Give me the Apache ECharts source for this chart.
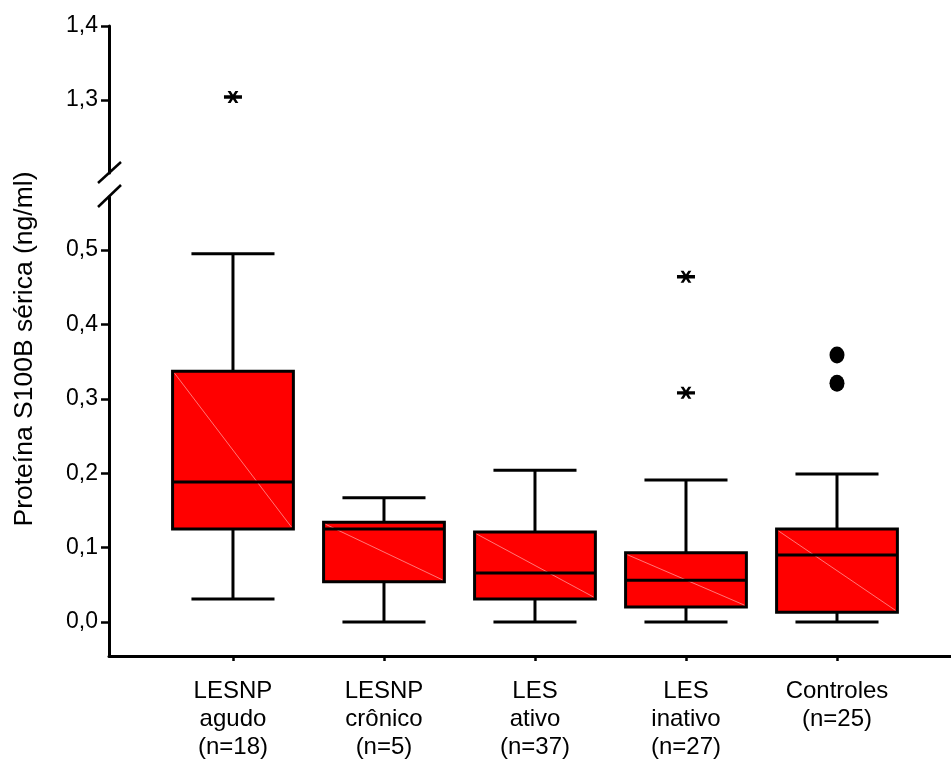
<!DOCTYPE html>
<html>
<head>
<meta charset="utf-8">
<script src="https://cdn.jsdelivr.net/npm/echarts@6/dist/echarts.min.js"></script>
<style>
  html, body { margin: 0; padding: 0; background: #fff; }
  #chart { width: 951px; height: 760px; }
</style>
</head>
<body>
<div id="chart"></div>
<script>
// Box plot with a broken y axis: lower panel 0.0-0.5, upper panel 1.3-1.4.

const groupNames = ['LESNP\nagudo', 'LESNP\ncrônico', 'LES\nativo', 'LES\ninativo', 'Controles']
const groupN = [18, 5, 37, 27, 25]
const groupPos = [1, 2, 3, 4, 5]

const whiskerLow = [0.031, 0.0, 0.0, 0.0, 0.0]
const q1 = [0.125, 0.054, 0.031, 0.020, 0.013]
const median = [0.188, 0.125, 0.066, 0.056, 0.090]
const q3 = [0.337, 0.134, 0.121, 0.093, 0.125]
const whiskerHigh = [0.495, 0.167, 0.204, 0.191, 0.199]

// outliers: [group position, value]
const starOutliersHigh = [[1, 1.304]]
const starOutliersLow = [[4, 0.464], [4, 0.308]]
const dotOutliers = [[5, 0.359], [5, 0.321]]

const lowTicks = [0, 0.1, 0.2, 0.3, 0.4, 0.5]
const highTicks = [1.3, 1.4]

const X_MIN = 0.179
const X_MAX = 5.755
const FONT = '"Liberation Sans", Arial, sans-serif'

const STAR = 'path://M0,4.3 L18,4.3 L18,7.7 L0,7.7 Z M3.6,0 L6.6,0 L14.4,12 L11.4,12 Z M11.4,0 L14.4,0 L6.6,12 L3.6,12 Z'
const DOT = 'path://M0,8.5 A7.5,8.5 0 1,1 15,8.5 A7.5,8.5 0 1,1 0,8.5 Z'

const boxData = groupPos.map((p, i) => [p, whiskerLow[i], q1[i], median[i], q3[i], whiskerHigh[i]])

const comma = (v) => v.toFixed(1).replace('.', ',')

function renderBox(params, api) {
  const x = api.value(0)
  const pMin = api.coord([x, api.value(1)])
  const pQ1 = api.coord([x, api.value(2)])
  const pMed = api.coord([x, api.value(3)])
  const pQ3 = api.coord([x, api.value(4)])
  const pMax = api.coord([x, api.value(5)])
  const unit = api.size([1, 0])[0]
  const half = unit * 0.4
  const cap = unit * 0.275
  const cx = pMin[0]
  const line = { stroke: '#000', lineWidth: 3 }
  return {
    type: 'group',
    children: [
      { type: 'line', shape: { x1: cx, y1: pMax[1], x2: cx, y2: pQ3[1] }, style: line },
      { type: 'line', shape: { x1: cx, y1: pQ1[1], x2: cx, y2: pMin[1] }, style: line },
      { type: 'line', shape: { x1: cx - cap, y1: pMax[1], x2: cx + cap, y2: pMax[1] }, style: line },
      { type: 'line', shape: { x1: cx - cap, y1: pMin[1], x2: cx + cap, y2: pMin[1] }, style: line },
      {
        type: 'rect',
        shape: { x: cx - half, y: pQ3[1], width: half * 2, height: pQ1[1] - pQ3[1] },
        style: { fill: '#ff0000', stroke: '#000', lineWidth: 3 }
      },
      {
        type: 'line',
        shape: { x1: cx - half + 2, y1: pQ3[1] + 2, x2: cx + half - 2, y2: pQ1[1] - 2 },
        style: { stroke: 'rgba(255,170,170,0.7)', lineWidth: 1 }
      },
      { type: 'line', shape: { x1: cx - half, y1: pMed[1], x2: cx + half, y2: pMed[1] }, style: line }
    ]
  }
}

const chart = echarts.init(document.getElementById('chart'))

const yLabel = { color: '#000', fontFamily: FONT, fontSize: 23, margin: 11, formatter: comma }
const yTick = { show: true, length: 8, lineStyle: { color: '#000', width: 2.5 } }
const axisLine = { show: true, onZero: false, lineStyle: { color: '#000', width: 3 } }

chart.setOption({
  animation: false,
  backgroundColor: '#fff',
  grid: [
    { left: 109, right: 0, top: 26, height: 147, outerBoundsMode: 'none' },
    { left: 109, right: 0, top: 197, bottom: 104, outerBoundsMode: 'none' }
  ],
  xAxis: [
    { gridIndex: 0, type: 'value', min: X_MIN, max: X_MAX, show: false },
    {
      gridIndex: 1,
      type: 'value',
      min: X_MIN,
      max: X_MAX,
      axisLine: axisLine,
      axisTick: { show: true, customValues: groupPos, length: 5, lineStyle: { color: '#000', width: 2.5 } },
      axisLabel: {
        customValues: groupPos,
        color: '#000',
        fontFamily: FONT,
        fontSize: 24,
        lineHeight: 28,
        margin: 21,
        formatter: (v) => {
          const i = groupPos.indexOf(Math.round(v))
          return i < 0 ? '' : groupNames[i] + '\n(n=' + groupN[i] + ')'
        }
      },
      splitLine: { show: false }
    }
  ],
  yAxis: [
    {
      gridIndex: 0,
      type: 'value',
      min: 1.2014,
      max: 1.4,
      axisLine: axisLine,
      axisTick: Object.assign({ customValues: highTicks }, yTick),
      axisLabel: Object.assign({ customValues: highTicks }, yLabel),
      splitLine: { show: false }
    },
    {
      gridIndex: 1,
      type: 'value',
      min: -0.0457,
      max: 0.5712,
      axisLine: axisLine,
      axisTick: Object.assign({ customValues: lowTicks }, yTick),
      axisLabel: Object.assign({ customValues: lowTicks }, yLabel),
      splitLine: { show: false }
    }
  ],
  graphic: [
    {
      type: 'text',
      x: 25,
      y: 349,
      rotation: Math.PI / 2,
      style: {
        text: 'Proteína S100B sérica (ng/ml)',
        font: '26.5px ' + FONT,
        fill: '#000',
        align: 'center',
        verticalAlign: 'middle'
      }
    },
    // axis break marks
    { type: 'line', shape: { x1: 98, y1: 183, x2: 121, y2: 162 }, style: { stroke: '#000', lineWidth: 2.5 } },
    { type: 'line', shape: { x1: 98, y1: 207, x2: 121, y2: 185 }, style: { stroke: '#000', lineWidth: 2.5 } }
  ],
  series: [
    {
      type: 'custom',
      xAxisIndex: 1,
      yAxisIndex: 1,
      renderItem: renderBox,
      encode: { x: 0, y: [1, 2, 3, 4, 5] },
      data: boxData,
      z: 2
    },
    {
      type: 'scatter',
      xAxisIndex: 0,
      yAxisIndex: 0,
      symbol: STAR,
      symbolSize: [18, 12],
      itemStyle: { color: '#000', opacity: 1 },
      data: starOutliersHigh
    },
    {
      type: 'scatter',
      xAxisIndex: 1,
      yAxisIndex: 1,
      symbol: STAR,
      symbolSize: [18, 12],
      itemStyle: { color: '#000', opacity: 1 },
      data: starOutliersLow
    },
    {
      type: 'scatter',
      xAxisIndex: 1,
      yAxisIndex: 1,
      symbol: DOT,
      symbolSize: [15, 17],
      itemStyle: { color: '#000', opacity: 1 },
      data: dotOutliers
    }
  ]
})
</script>
</body>
</html>
